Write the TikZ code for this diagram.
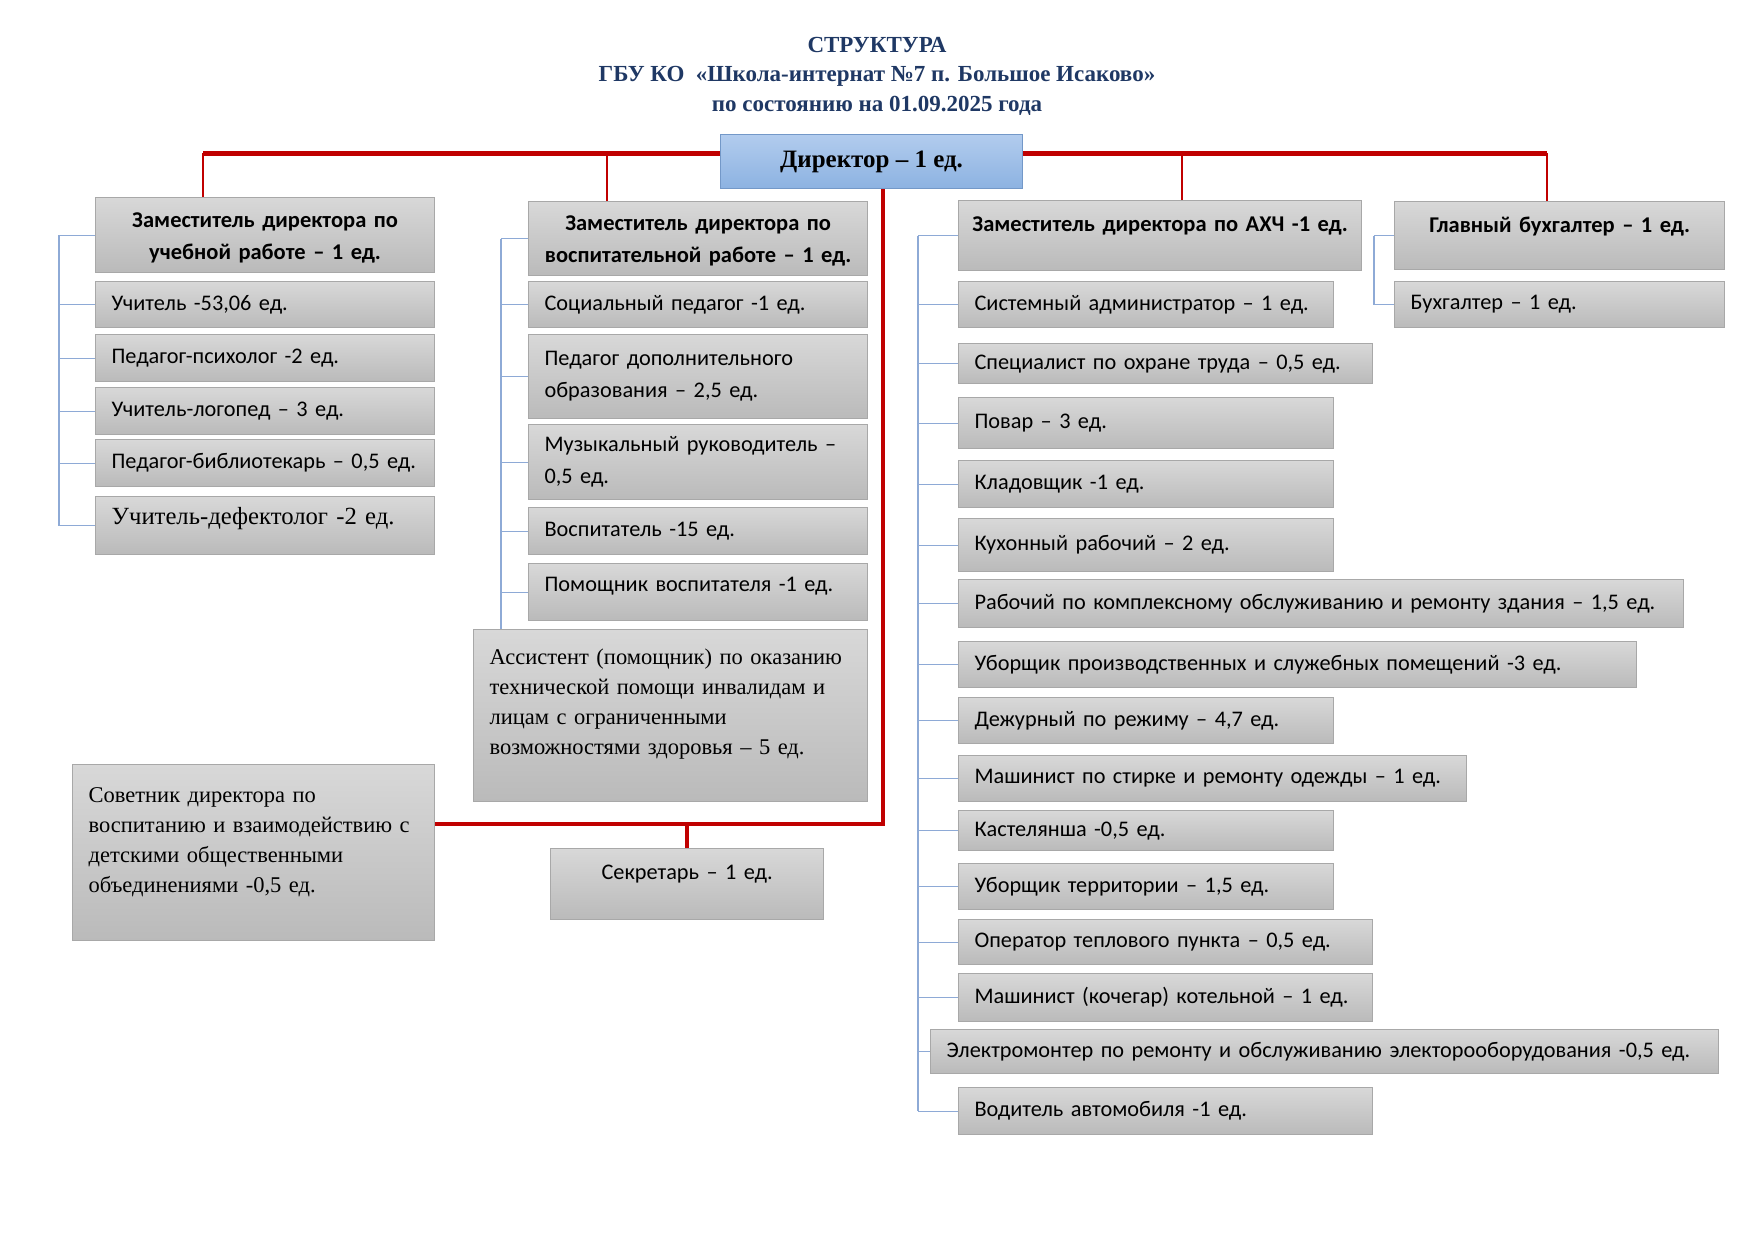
\documentclass[tikz,border=0pt]{standalone}
\usepackage{fontspec}
\setmainfont{Liberation Serif}
\newfontfamily\calfont{Carlito}
\definecolor{ink}{HTML}{1F3864}
\definecolor{boxtop}{HTML}{D8D8D8}
\definecolor{boxbot}{HTML}{BABABA}
\definecolor{boxline}{HTML}{A8A8A8}
\definecolor{dirtop}{HTML}{B2CCEE}
\definecolor{dirbot}{HTML}{8CB2E1}
\definecolor{dirline}{HTML}{7398C8}
\definecolor{redline}{HTML}{C00000}
\definecolor{tickblue}{HTML}{8EAAD6}
\tikzset{box/.style={draw=boxline,line width=1.2pt,top color=boxtop,bottom color=boxbot,anchor=north west,inner xsep=16pt,inner ysep=3pt,align=left,font=\calfont\fontsize{22.3}{32}\selectfont}, headbox/.style={box,inner xsep=8pt,align=center,font=\calfont\bfseries\fontsize{22.5}{32}\selectfont}, serifbox/.style={box,font=\fontsize{22.5}{30}\selectfont}, dirbox/.style={box,draw=dirline,top color=dirtop,bottom color=dirbot,align=center,font=\bfseries\fontsize{25}{28}\selectfont}, redbar/.style={draw=redline,line width=5pt}, reddrop/.style={draw=redline,line width=2.5pt}, redtrunk/.style={draw=redline,line width=4pt}, bluetick/.style={draw=tickblue,line width=1.2pt}}
\begin{document}
\begin{tikzpicture}[x=1pt,y=-1pt]
\useasboundingbox (0,0) rectangle (1755,1240);
\node[font=\bfseries\fontsize{23}{29.5}\selectfont,text=ink,align=center] (title) at (877,76) {СТРУКТУРА\\ГБУ КО\ \ «Школа-интернат №7 п. Большое Исаково»\\по состоянию на 01.09.2025 года};
\node[dirbox,minimum width=302pt,minimum height=54pt] (dir) at (720,134) {Директор – 1 ед.};
% учебная часть
\node[headbox,text width=323pt,minimum height=75pt,text depth=30pt] (u0) at (95,197) {Заместитель директора по\\учебной работе – 1 ед.};
\node[box,text width=307pt,minimum height=46pt] (u1) at (95,281) {Учитель -53,06 ед.};
\node[box,text width=307pt,minimum height=47pt] (u2) at (95,334) {Педагог-психолог -2 ед.};
\node[box,text width=307pt,minimum height=47pt] (u3) at (95,387) {Учитель-логопед – 3 ед.};
\node[box,text width=307pt,minimum height=47pt] (u4) at (95,439) {Педагог-библиотекарь – 0,5 ед.};
\node[serifbox,font=\fontsize{24.7}{30}\selectfont,text width=307pt,minimum height=58pt,text depth=20pt] (u5) at (95,496) {Учитель-дефектолог -2 ед.};
% воспитательная часть
\node[headbox,text width=323pt,minimum height=74pt,text depth=31pt] (v0) at (528,201) {Заместитель директора по\\воспитательной работе – 1 ед.};
\node[box,text width=307pt,minimum height=46pt] (v1) at (528,281) {Социальный педагог -1 ед.};
\node[box,text width=307pt,minimum height=84pt] (v2) at (528,334) {Педагог дополнительного\\образования – 2,5 ед.};
\node[box,text width=307pt,minimum height=75pt] (v3) at (528,424) {Музыкальный руководитель –\\0,5 ед.};
\node[box,text width=307pt,minimum height=47pt] (v4) at (528,507) {Воспитатель -15 ед.};
\node[box,text width=307pt,minimum height=57pt,text depth=16pt] (v5) at (528,563) {Помощник воспитателя -1 ед.};
\node[serifbox,text width=362pt,minimum height=172pt,text depth=118pt] (asst) at (473,629) {Ассистент (помощник) по оказанию\\технической помощи инвалидам и\\лицам с ограниченными\\возможностями здоровья – 5 ед.};
\node[serifbox,text width=330pt,minimum height=176pt,text depth=116pt] (adv) at (72,764) {Советник директора по\\воспитанию и взаимодействию с\\детскими общественными\\объединениями -0,5 ед.};
\node[box,align=center,text width=241pt,minimum height=71pt,text depth=24pt] (sec) at (550,848) {Секретарь – 1 ед.};
% АХЧ
\node[headbox,text width=387pt,minimum height=70pt,text depth=22pt] (a0) at (958,200) {Заместитель директора по АХЧ -1 ед.};
\node[box,text width=343pt,minimum height=46pt] (a1) at (958,281) {Системный администратор – 1 ед.};
\node[box,text width=382pt,minimum height=40pt] (a2) at (958,343) {Специалист по охране труда – 0,5 ед.};
\node[box,text width=343pt,minimum height=51pt] (a3) at (958,397) {Повар – 3 ед.};
\node[box,text width=343pt,minimum height=47pt] (a4) at (958,460) {Кладовщик -1 ед.};
\node[box,text width=343pt,minimum height=53pt] (a5) at (958,518) {Кухонный рабочий – 2 ед.};
\node[box,text width=693pt,minimum height=48pt] (a6) at (958,579) {Рабочий по комплексному обслуживанию и ремонту здания – 1,5 ед.};
\node[box,text width=646pt,minimum height=46pt] (a7) at (958,641) {Уборщик производственных и служебных помещений -3 ед.};
\node[box,text width=343pt,minimum height=46pt] (a8) at (958,697) {Дежурный по режиму – 4,7 ед.};
\node[box,text width=476pt,minimum height=46pt] (a9) at (958,755) {Машинист по стирке и ремонту одежды – 1 ед.};
\node[box,text width=343pt,minimum height=40pt] (a10) at (958,810) {Кастелянша -0,5 ед.};
\node[box,text width=343pt,minimum height=46pt] (a11) at (958,863) {Уборщик территории – 1,5 ед.};
\node[box,text width=382pt,minimum height=45pt] (a12) at (958,919) {Оператор теплового пункта – 0,5 ед.};
\node[box,text width=382pt,minimum height=48pt] (a13) at (958,973) {Машинист (кочегар) котельной – 1 ед.};
\node[box,text width=756pt,minimum height=44pt] (a14) at (930,1029) {Электромонтер по ремонту и обслуживанию электорооборудования -0,5 ед.};
\node[box,text width=382pt,minimum height=47pt] (a15) at (958,1087) {Водитель автомобиля -1 ед.};
% бухгалтерия
\node[headbox,text width=314pt,minimum height=68pt,text depth=22pt] (b0) at (1394,201) {Главный бухгалтер – 1 ед.};
\node[box,text width=298pt,minimum height=46pt] (b1) at (1394,281) {Бухгалтер – 1 ед.};
% red lines
\coordinate (d1) at (203,153); \coordinate (d2) at (607,153); \coordinate (d3) at (1182,153); \coordinate (d4) at (1547,153);
\coordinate (jn) at (883,824);
\draw[redbar] (dir.west |- d1)--(d1); \draw[redbar] (dir.east |- d4)--(d4);
\draw[reddrop] (d1)--(d1 |- u0.north); \draw[reddrop] (d2)--(d2 |- v0.north);
\draw[reddrop] (d3)--(d3 |- a0.north); \draw[reddrop] (d4)--(d4 |- b0.north);
\draw[redtrunk] (dir.south -| jn)--(jn)--(jn -| adv.east);
\draw[redtrunk] (sec.north)--(sec.north |- jn);
% blue brackets
\coordinate (bu) at (59,0); \coordinate (bv) at (501,0); \coordinate (ba) at (918,0); \coordinate (bb) at (1374,0);
\foreach \n in {u0,u1,u2,u3,u4,u5} \draw[bluetick] (bu |- \n.west)--(\n.west);
\draw[bluetick] (bu |- u0.west)--(bu |- u5.west);
\foreach \n in {v0,v1,v2,v3,v4,v5} \draw[bluetick] (bv |- \n.west)--(\n.west);
\draw[bluetick] (bv |- v0.west)--(bv |- asst.north);
\foreach \n in {a0,a1,a2,a3,a4,a5,a6,a7,a8,a9,a10,a11,a12,a13,a14,a15} \draw[bluetick] (ba |- \n.west)--(\n.west);
\draw[bluetick] (ba |- a0.west)--(ba |- a15.west);
\draw[bluetick] (bb |- b0.west)--(b0.west); \draw[bluetick] (bb |- b1.west)--(b1.west);
\draw[bluetick] (bb |- b0.west)--(bb |- b1.west);
\end{tikzpicture}
\end{document}
